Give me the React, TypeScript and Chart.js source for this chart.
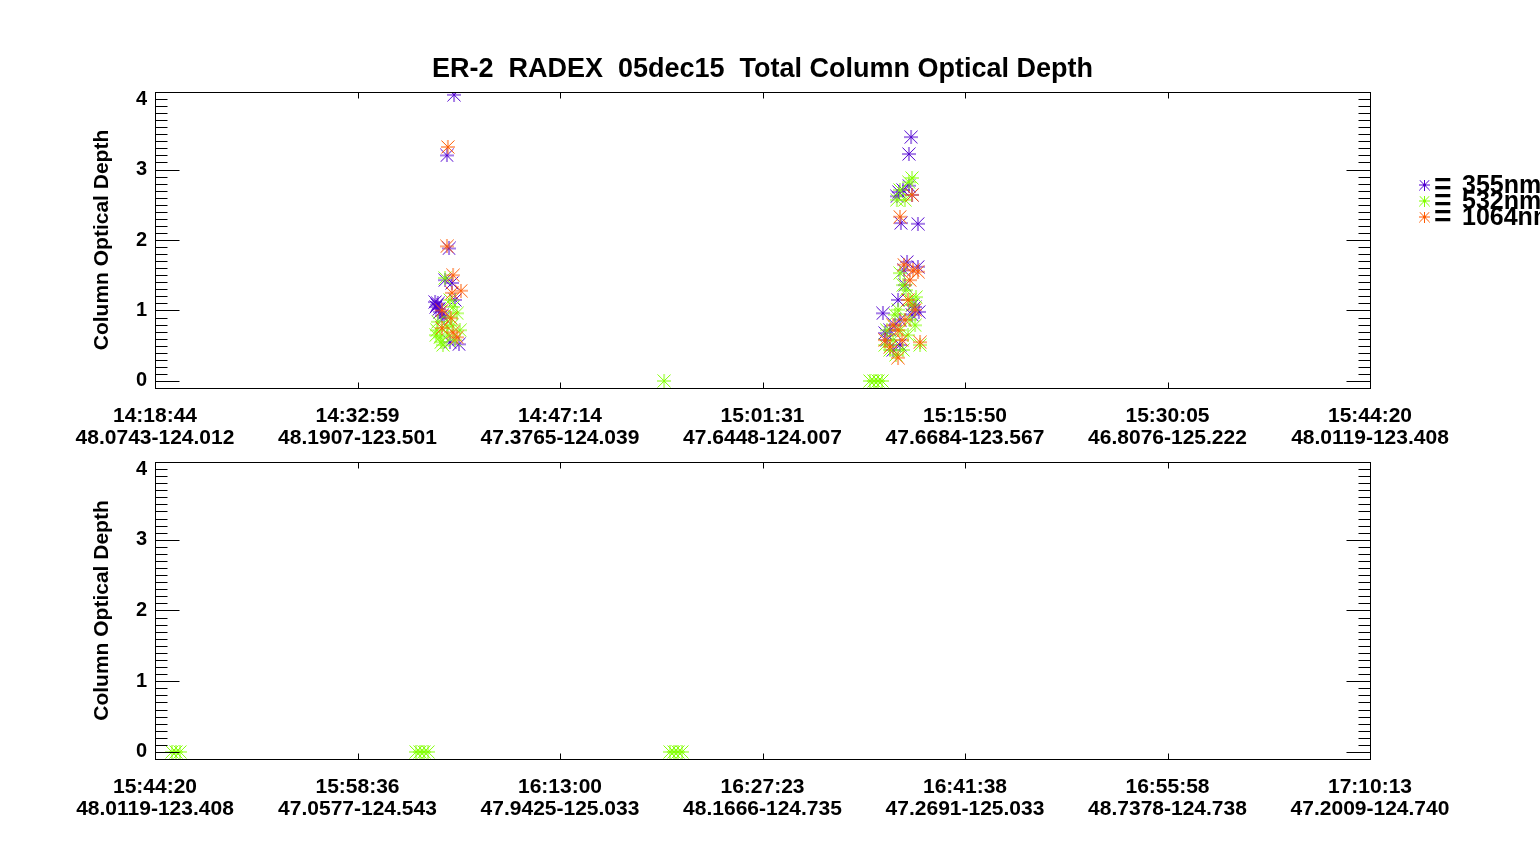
import { useEffect, useRef } from "react";
import { Chart, registerables } from "chart.js";

Chart.register(...registerables);

const FONT = "'Liberation Sans', Arial, Helvetica, sans-serif";
const TITLE = "ER-2  RADEX  05dec15  Total Column Optical Depth";
const Y_TITLE = "Column Optical Depth";

const wavelengths = ["355nm", "532nm", "1064nm"];
const colors = ["#5000d0", "#80ff00", "#ff5a00"];
const yTicks = [0, 1, 2, 3, 4];

// tick labels, top panel
const topTimes = ["14:18:44", "14:32:59", "14:47:14", "15:01:31", "15:15:50", "15:30:05", "15:44:20"];
const topPositions = ["48.0743-124.012", "48.1907-123.501", "47.3765-124.039", "47.6448-124.007", "47.6684-123.567", "46.8076-125.222", "48.0119-123.408"];

// tick labels, bottom panel
const bottomTimes = ["15:44:20", "15:58:36", "16:13:00", "16:27:23", "16:41:38", "16:55:58", "17:10:13"];
const bottomPositions = ["48.0119-123.408", "47.0577-124.543", "47.9425-125.033", "48.1666-124.735", "47.2691-125.033", "48.7378-124.738", "47.2009-124.740"];

// seconds after the first tick, optical depth
const top355Time = [1264, 1234, 1243, 1226, 1255, 1184, 1192, 1196, 1205, 1213, 1268, 1285, 1222, 1247, 1188, 1200,
  3196, 3187, 3136, 3145, 3187, 3200, 3162, 3153, 3225, 3179, 3225, 3166, 3170, 3141, 3077, 3200, 3229, 3107, 3094, 3128, 3149, 3086, 3213, 3120, 3149, 3204];
const top355Tau = [4.06, 3.20, 1.88, 1.43, 1.39, 1.12, 1.08, 1.10, 0.98, 0.93, 1.15, 0.52, 0.90, 0.55, 1.05, 1.02,
  3.46, 3.22, 2.62, 2.68, 2.77, 2.64, 2.71, 2.24, 2.23, 1.69, 1.62, 1.57, 1.36, 1.15, 0.96, 0.94, 0.98, 0.72, 0.58, 0.79, 0.51, 0.68, 1.05, 0.44, 0.87, 1.08];

const top532Time = [1196, 1205, 1192, 1234, 1247, 1260, 1289, 1268, 1217, 1277, 1226, 1247, 1188, 1209, 1238, 1255,
  2152, 3022, 3039, 3056, 3073,
  3200, 3187, 3149, 3170, 3136, 3149, 3162, 3191, 3128, 3086, 3107, 3149, 3213, 3234, 3175, 3200, 3120, 3183, 3217, 3162, 3094, 3141, 3191, 3132];
const top532Tau = [0.84, 0.62, 0.72, 0.77, 0.91, 1.05, 0.72, 0.58, 0.51, 0.96, 1.46, 1.15, 0.65, 0.55, 0.65, 0.79,
  0, 0, 0, 0, 0,
  2.88, 2.82, 2.71, 2.57, 2.57, 1.53, 1.36, 1.15, 0.94, 0.51, 0.44, 0.72, 0.79, 0.51, 1.29, 1.08, 0.58, 0.65, 1.19, 0.44, 0.72, 1.01, 0.87, 0.37];

const top1064Time = [1238, 1234, 1260, 1293, 1255, 1213, 1213, 1277, 1260, 1251,
  3149, 3200, 3166, 3204, 3191, 3225, 3141, 3141, 3086, 3234, 3170, 3120, 3183, 3107, 3158, 3213];
const top1064Tau = [3.32, 1.91, 1.50, 1.28, 1.25, 1.00, 0.75, 0.62, 0.69, 0.89,
  2.33, 2.64, 1.65, 1.57, 1.43, 1.55, 0.72, 0.33, 0.58, 0.55, 0.87, 0.79, 1.15, 0.48, 0.58, 1.01];

const bottom355Time: number[] = [];
const bottom355Tau: number[] = [];
const bottom532Time = [72, 89, 106, 1107, 1124, 1141, 1158, 2184, 2201, 2218, 2235];
const bottom532Tau = [0, 0, 0, 0, 0, 0, 0, 0, 0, 0, 0];
const bottom1064Time: number[] = [];
const bottom1064Tau: number[] = [];

function toSeconds(t: string) {
  const [h, m, s] = t.split(":").map(Number);
  return h * 3600 + m * 60 + s;
}

function zip(xs: number[], ys: number[]) {
  return xs.map((x, i) => ({ x, y: ys[i] }));
}

// IDL psym=2 asterisk: cross plus corner-to-corner diagonals
function asterisk(color: string, size: number) {
  const c = document.createElement("canvas");
  c.width = size;
  c.height = size;
  const ctx = c.getContext("2d")!;
  const m = size / 2;
  ctx.strokeStyle = color;
  ctx.lineWidth = 1;
  ctx.beginPath();
  ctx.moveTo(0, m);
  ctx.lineTo(size, m);
  ctx.moveTo(m, 0);
  ctx.lineTo(m, size);
  ctx.moveTo(0.5, 0.5);
  ctx.lineTo(size - 0.5, size - 0.5);
  ctx.moveTo(size - 0.5, 0.5);
  ctx.lineTo(0.5, size - 0.5);
  ctx.stroke();
  return c;
}

// IDL style box with inward ticks
const framePlugin = {
  id: "idlFrame",
  afterDatasetsDraw(chart: any) {
    const { ctx, chartArea: a, scales } = chart;
    const xs = scales.x;
    const ys = scales.y;
    const L = Math.round(a.left) + 0.5;
    const R = Math.round(a.right) + 0.5;
    const T = Math.round(a.top) + 0.5;
    const B = Math.round(a.bottom) + 0.5;
    ctx.save();
    ctx.strokeStyle = "#000";
    ctx.lineWidth = 1;
    ctx.strokeRect(L, T, R - L, B - T);
    ctx.beginPath();
    for (let i = 0; i <= 40; i++) {
      const py = Math.round(ys.getPixelForValue(i / 10)) + 0.5;
      const len = i % 10 === 0 && i < 40 ? 24 : 12;
      ctx.moveTo(L, py);
      ctx.lineTo(L + len, py);
      ctx.moveTo(R, py);
      ctx.lineTo(R - len, py);
    }
    xs.ticks.forEach((t: any) => {
      const px = Math.round(xs.getPixelForValue(t.value)) + 0.5;
      ctx.moveTo(px, B);
      ctx.lineTo(px, B - 6);
      ctx.moveTo(px, T);
      ctx.lineTo(px, T + 6);
    });
    ctx.stroke();
    ctx.restore();
  },
};

const legendPlugin = {
  id: "sideLegend",
  afterDraw(chart: any) {
    const ctx = chart.ctx as CanvasRenderingContext2D;
    ctx.save();
    chart.data.datasets.forEach((ds: any, i: number) => {
      const y = 185 + i * 16;
      const mark = asterisk(ds.borderColor, 11);
      ctx.drawImage(mark, 1419, y - 5.5);
      ctx.fillStyle = "#000";
      ctx.textBaseline = "middle";
      ctx.font = `bold 30px ${FONT}`;
      ctx.fillText("=", 1434, y + 1);
      ctx.font = `bold 25px ${FONT}`;
      ctx.fillText(ds.label, 1462, y + 1);
    });
    ctx.restore();
  },
};

function makeConfig(
  times: string[],
  positions: string[],
  series: { x: number[]; y: number[] }[],
  withTitle: boolean,
  padTop: number,
  xHeight: number,
) {
  const span = toSeconds(times[times.length - 1]) - toSeconds(times[0]);
  const tickFont = { family: FONT, size: 21, weight: "bold" as const, lineHeight: 1.05 };
  return {
    type: "scatter" as const,
    data: {
      datasets: series.map((s, i) => ({
        label: wavelengths[i],
        data: zip(s.x, s.y),
        pointStyle: asterisk(colors[i], 14),
        pointRadius: 7,
        borderColor: colors[i],
        backgroundColor: colors[i],
        clip: 0,
        order: 3 - i,
      })),
    },
    options: {
      animation: false as const,
      responsive: false,
      events: [],
      layout: { padding: { left: 0, right: 170, top: padTop, bottom: 0 } },
      plugins: {
        legend: { display: false },
        tooltip: { enabled: false },
        title: {
          display: withTitle,
          text: TITLE,
          fullSize: false,
          color: "#000",
          font: { family: FONT, size: 27, weight: "bold" as const, lineHeight: 1.2 },
          padding: { top: 53, bottom: 6.6 },
        },
      },
      scales: {
        x: {
          type: "linear" as const,
          min: 0,
          max: span,
          grid: { display: false, drawTicks: false },
          border: { display: false },
          afterBuildTicks: (s: any) => {
            s.ticks = times.map((_, i) => ({ value: (i * span) / (times.length - 1) }));
          },
          afterFit: (s: any) => {
            s.height = xHeight;
          },
          ticks: {
            autoSkip: false,
            maxRotation: 0,
            minRotation: 0,
            padding: 17,
            color: "#000",
            font: tickFont,
            callback: (_v: any, i: number) => [times[i], positions[i]],
          },
        },
        y: {
          min: -0.1,
          max: 4.1,
          grid: { display: false, drawTicks: false },
          border: { display: false },
          afterBuildTicks: (s: any) => {
            s.ticks = yTicks.map((v) => ({ value: v }));
          },
          afterFit: (s: any) => {
            s.width = 155;
          },
          ticks: {
            padding: 8,
            color: "#000",
            font: { family: FONT, size: 20, weight: "bold" as const },
            callback: (v: any) => String(v),
          },
          title: {
            display: true,
            text: Y_TITLE,
            color: "#000",
            font: { family: FONT, size: 21, weight: "bold" as const, lineHeight: 1.2 },
            padding: { top: 90, bottom: 0 },
          },
        },
      },
    },
    plugins: withTitle ? [framePlugin, legendPlugin] : [framePlugin],
  };
}

function Panel(props: {
  top: number;
  height: number;
  times: string[];
  positions: string[];
  series: { x: number[]; y: number[] }[];
  withTitle: boolean;
  padTop: number;
  xHeight: number;
}) {
  const canvasRef = useRef<HTMLCanvasElement | null>(null);

  useEffect(() => {
    if (!canvasRef.current) return;
    const chart = new Chart(
      canvasRef.current,
      makeConfig(props.times, props.positions, props.series, props.withTitle, props.padTop, props.xHeight) as any,
    );
    return () => chart.destroy();
  }, []);

  return (
    <canvas
      ref={canvasRef}
      width={1540}
      height={props.height}
      style={{ position: "absolute", left: 0, top: props.top, width: 1540, height: props.height }}
    />
  );
}

export default function App() {
  return (
    <div style={{ position: "absolute", left: 0, top: 0, width: 1540, height: 845, background: "#fff", overflow: "hidden" }}>
      <Panel
        top={0}
        height={455}
        times={topTimes}
        positions={topPositions}
        series={[
          { x: top355Time, y: top355Tau },
          { x: top532Time, y: top532Tau },
          { x: top1064Time, y: top1064Tau },
        ]}
        withTitle={true}
        padTop={0}
        xHeight={67}
      />
      <Panel
        top={442}
        height={403}
        times={bottomTimes}
        positions={bottomPositions}
        series={[
          { x: bottom355Time, y: bottom355Tau },
          { x: bottom532Time, y: bottom532Tau },
          { x: bottom1064Time, y: bottom1064Tau },
        ]}
        withTitle={false}
        padTop={0}
        xHeight={86}
      />
    </div>
  );
}
